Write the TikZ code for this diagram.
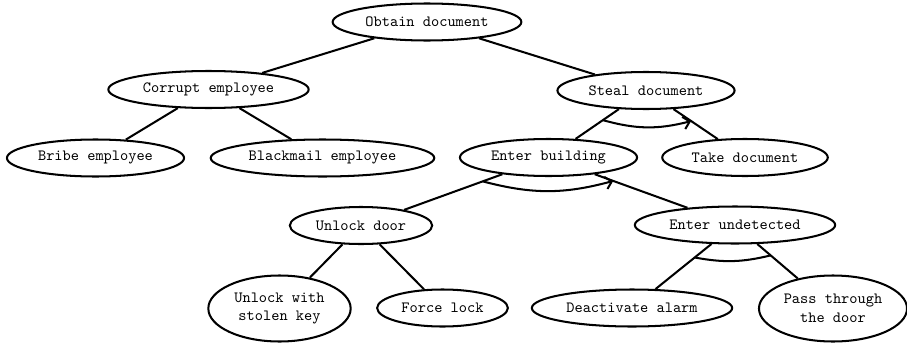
\documentclass[tikz,border=0pt]{standalone}
\usetikzlibrary{shapes.geometric,arrows.meta}
\begin{document}
\begin{tikzpicture}[x=0.64pt,y=-0.64pt,
  el/.style={ellipse,draw,line width=1.3pt,
    minimum height=37*0.64pt,font=\ttfamily,align=center},
  tall/.style={minimum height=66*0.64pt},
  edge/.style={line width=1.3pt},
  seq/.style={line width=1.3pt,-{Straight Barb[length=4pt,width=8pt]}},
  conj/.style={line width=1.3pt}]
\useasboundingbox (0,0) rectangle (907,343);
\node[el] (obt) at (427,22) {Obtain document};
\node[el] (cor) at (208.5,89.5) {Corrupt employee};
\node[el] (bri) at (95.5,158) {Bribe employee};
\node[el] (bla) at (322.5,158) {Blackmail employee};
\node[el] (ste) at (646,90.5) {Steal document};
\node[el] (ent) at (548.5,157.5) {Enter building};
\node[el] (tak) at (745,157.5) {Take document};
\node[el] (unl) at (361,225.5) {Unlock door};
\node[el] (und) at (735,225) {Enter undetected};
\node[el,tall] (key) at (279.5,308.5) {Unlock with\\stolen key};
\node[el] (frc) at (442.5,308) {Force lock};
\node[el] (dea) at (632,308) {Deactivate alarm};
\node[el,tall,inner xsep=2pt] (pas) at (833,308.5) {Pass through\\the door};
\draw[edge] (obt) -- (cor);
\draw[edge] (obt) -- (ste);
\draw[edge] (cor) -- (bri);
\draw[edge] (cor) -- (bla);
\draw[edge] (ste) -- (ent) coordinate[pos=0.37] (s1);
\draw[edge] (ste) -- (tak) coordinate[pos=0.4] (s2);
\draw[edge] (ent) -- (unl) coordinate[pos=0.2] (e1);
\draw[edge] (ent) -- (und) coordinate[pos=0.2] (e2);
\draw[edge] (unl) -- (key);
\draw[edge] (unl) -- (frc);
\draw[edge] (und) -- (dea) coordinate[pos=0.3] (u1);
\draw[edge] (und) -- (pas) coordinate[pos=0.33] (u2);
\draw[seq] (s1) to[bend right=15] (s2);
\draw[seq] (e1) to[bend right=15] (e2);
\draw[conj] (u1) to[bend right=12] (u2);
\end{tikzpicture}
\end{document}
